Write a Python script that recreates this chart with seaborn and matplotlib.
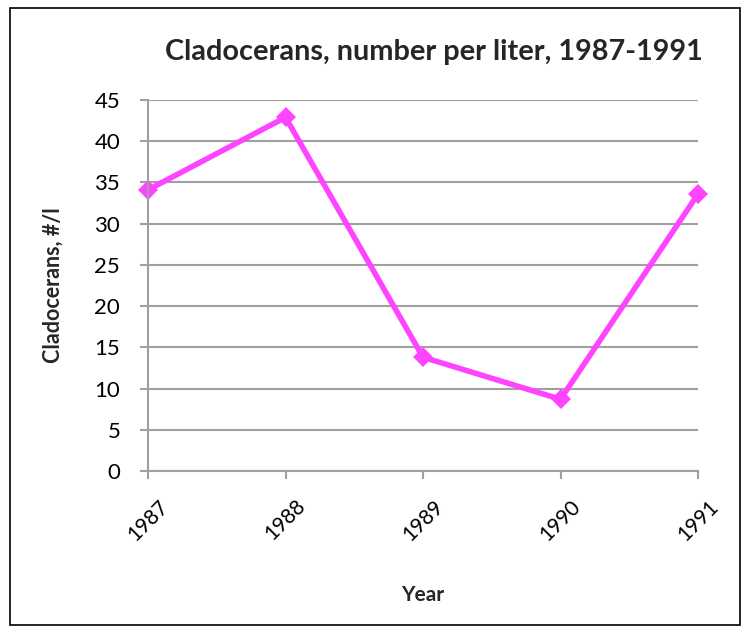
import matplotlib
matplotlib.use("Agg")
import matplotlib.pyplot as plt
import seaborn as sns
import pandas as pd
from matplotlib.patches import Rectangle

years = ["1987", "1988", "1989", "1990", "1991"]
values = [34.1, 42.9, 13.8, 8.7, 33.6]

sns.set_theme(style="white")
plt.rcParams['font.family'] = ['Lato', 'DejaVu Sans']

df = pd.DataFrame({"Year": years, "Value": values})

fig = plt.figure(figsize=(7.52, 6.37), dpi=100)
ax = fig.add_axes([148/752, 1-471/637, (698-148)/752, (471-100)/637])

sns.lineplot(data=df, x="Year", y="Value", ax=ax, color="#FF44FF", linewidth=4,
             marker="D", markersize=10, markeredgewidth=0, sort=False)

ax.set_ylim(0, 45)
ax.set_yticks(range(0, 46, 5))
ax.set_xlim(-0.0, 4.0)
ax.set_xticks(range(len(years)))
ax.set_xticklabels(years, rotation=45, ha="center", fontsize=15)
for lbl in ax.get_yticklabels():
    lbl.set_fontsize(16)

ax.grid(axis="y", color="#A0A0A0", linewidth=1.5)
ax.set_axisbelow(True)
for s in ["top", "right"]:
    ax.spines[s].set_visible(False)
for s in ["left", "bottom"]:
    ax.spines[s].set_color("#A0A0A0")
    ax.spines[s].set_linewidth(1.5)
ax.tick_params(axis="both", direction="out", length=6, width=1.5, color="#A0A0A0",
               bottom=True, left=True, labelcolor="black")
ax.tick_params(axis="y", pad=14)
ax.tick_params(axis="x", pad=12)

ax.set_xlabel("Year", fontsize=15, fontweight="bold", labelpad=29)
ax.set_ylabel("Cladocerans, #/l", fontsize=15.5, fontweight="bold", labelpad=22)
for c in ax.get_lines():
    c.set_clip_on(False)

fig.text(434/752, 1-52/637, "Cladocerans, number per liter, 1987-1991",
         fontsize=20.8, fontweight="bold", ha="center", va="center")

fig.patches.append(Rectangle((10/752, 1-625/637), 730/752, 617/637,
                             transform=fig.transFigure, fill=False,
                             edgecolor="black", linewidth=1.2))

fig.savefig("out.png", dpi=100)
